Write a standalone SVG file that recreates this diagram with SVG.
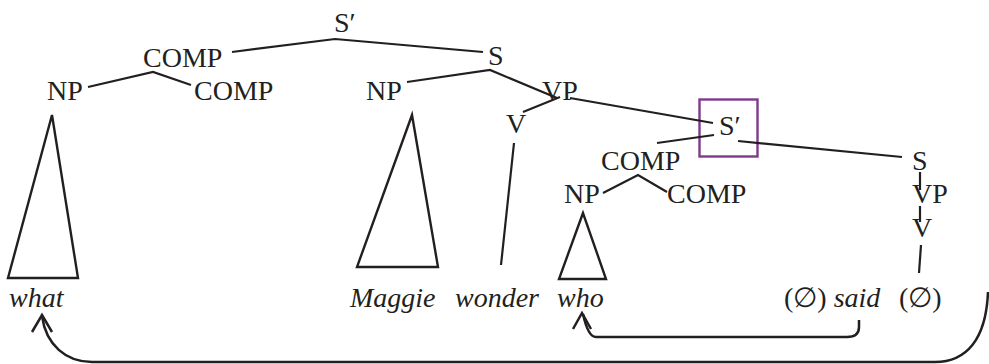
<svg xmlns="http://www.w3.org/2000/svg" width="989" height="364" viewBox="0 0 989 364">
<style>
text{font-family:"Liberation Serif","Times New Roman",serif;font-size:28px;fill:#231f20}
.it{font-style:italic}
.ln{stroke:#231f20;stroke-width:2.2;fill:none;stroke-linecap:butt}
.tri{stroke:#231f20;stroke-width:2.4;fill:none;stroke-linejoin:miter}
.mv{stroke:#231f20;stroke-width:2.5;fill:none}
</style>
<rect width="989" height="364" fill="#fff"/>
<g id="nodes">
<g id="n-Sbar1"><text x="334" y="32">S′</text></g>
<g id="n-COMP1"><text x="143" y="67">COMP</text></g>
<g id="n-S1"><text x="488" y="65">S</text></g>
<g id="n-NP1"><text x="47" y="100">NP</text></g>
<g id="n-COMP2"><text x="194" y="100">COMP</text></g>
<g id="n-NP2"><text x="366" y="100">NP</text></g>
<g id="n-VP1"><text x="542" y="100">VP</text></g>
<g id="n-V1"><text x="506" y="133">V</text></g>
<g id="n-Sbar2"><rect x="699.5" y="99.5" width="58" height="57" fill="none" stroke="#7f3a8c" stroke-width="2.4"/><text x="719" y="135">S′</text></g>
<g id="n-COMP3"><text x="601" y="170">COMP</text></g>
<g id="n-NP3"><text x="564" y="203">NP</text></g>
<g id="n-COMP4"><text x="667" y="203">COMP</text></g>
<g id="n-S2"><text x="912" y="170">S</text></g>
<g id="n-VP2"><text x="912" y="203">VP</text></g>
<g id="n-V2"><text x="912" y="237">V</text></g>
<g id="n-what"><polygon class="tri" points="52,115 8,278 78,278"/><text class="it" x="9" y="307">what</text></g>
<g id="n-Maggie"><polygon class="tri" points="412,115 357,267 438,267"/><text class="it" x="350" y="307">Maggie</text></g>
<g id="n-wonder"><text class="it" x="455" y="307">wonder</text></g>
<g id="n-who"><polygon class="tri" points="583,213 559,279 606,279"/><text class="it" x="557" y="307">who</text></g>
<g id="n-said"><text x="784" y="307">(∅) <tspan class="it">said</tspan></text></g>
<g id="n-empty"><text x="899" y="307">(∅)</text></g>
</g>
<g id="connectors">
<polyline class="ln" points="232,52 335,39 483,52"/>
<polyline class="ln" points="88,87 153,72 191,85"/>
<polyline class="ln" points="407,82 490,70 557,98"/>
<line class="ln" x1="560" y1="97" x2="523" y2="112"/>
<line class="ln" x1="570" y1="98" x2="713" y2="123"/>
<line class="ln" x1="514" y1="143" x2="501" y2="265"/>
<line class="ln" x1="714" y1="135" x2="657" y2="143"/>
<line class="ln" x1="738" y1="141" x2="902" y2="157"/>
<polyline class="ln" points="603,193 638,175 667,192"/>
<line class="ln" x1="920" y1="172" x2="920" y2="190"/>
<line class="ln" x1="920" y1="206" x2="920" y2="222"/>
<line class="ln" x1="921" y1="245" x2="919" y2="273"/>
<path class="mv" d="M988,292 C986,340 966,362 935,362 L92,362 C66,362 46,345 42,316"/>
<polyline class="mv" points="32,332 42,315 52,332"/>
<path class="mv" d="M859,320 L859,327 Q859,337 847,337 L596,337 Q588,337 583,314"/>
<polyline class="mv" points="573,329 582,313 591,329"/>
</g>
</svg>
